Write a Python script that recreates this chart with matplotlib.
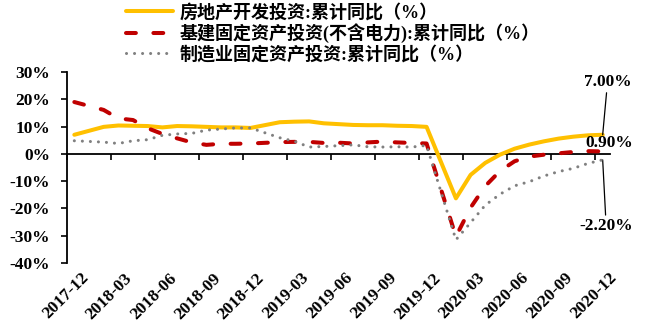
import matplotlib
matplotlib.use("Agg")
import matplotlib.pyplot as plt
import matplotlib.transforms as mtransforms
from matplotlib.ticker import FuncFormatter
import pandas as pd

# monthly cumulative yoy (%), January not published
months = ["2017-12",
          "2018-02", "2018-03", "2018-04", "2018-05", "2018-06", "2018-07",
          "2018-08", "2018-09", "2018-10", "2018-11", "2018-12",
          "2019-02", "2019-03", "2019-04", "2019-05", "2019-06", "2019-07",
          "2019-08", "2019-09", "2019-10", "2019-11", "2019-12",
          "2020-02", "2020-03", "2020-04", "2020-05", "2020-06", "2020-07",
          "2020-08", "2020-09", "2020-10", "2020-11", "2020-12"]

real_estate = [7.0,
               9.9, 10.4, 10.3, 10.2, 9.7, 10.2, 10.1, 9.9, 9.7, 9.7, 9.5,
               11.6, 11.8, 11.9, 11.2, 10.9, 10.6, 10.5, 10.5, 10.3, 10.2, 9.9,
               -16.3, -7.7, -3.3, -0.3, 1.9, 3.4, 4.6, 5.6, 6.3, 6.8, 7.0]

infra = [19.0,
         16.1, 13.0, 12.4, 9.4, 7.3, 5.7, 4.2, 3.3, 3.7, 3.7, 3.8,
         4.3, 4.4, 4.4, 4.0, 4.1, 3.8, 4.2, 4.5, 4.2, 4.0, 3.8,
         -30.3, -19.7, -11.8, -6.3, -2.7, -1.0, -0.3, 0.2, 0.7, 1.0, 0.9]

manuf = [4.8,
         4.3, 3.8, 4.8, 5.2, 6.8, 7.3, 7.5, 8.7, 9.1, 9.5, 9.5,
         5.9, 4.6, 2.5, 2.7, 3.0, 3.3, 2.6, 2.5, 2.6, 2.5, 3.1,
         -31.5, -25.2, -18.8, -14.8, -11.7, -10.2, -8.1, -6.5, -5.3, -3.5, -2.2]

tick_labels = ["2017-12", "2018-03", "2018-06", "2018-09", "2018-12", "2019-03",
               "2019-06", "2019-09", "2019-12", "2020-03", "2020-06", "2020-09",
               "2020-12"]

labels = ["房地产开发投资:累计同比（%）",
          "基建固定资产投资(不含电力):累计同比（%）",
          "制造业固定资产投资:累计同比（%）"]

periods = pd.PeriodIndex(months, freq="M")
start = periods[0]
x = [(p - start).n for p in periods]
tick_x = [(pd.Period(t, freq="M") - start).n for t in tick_labels]
n_months = (periods[-1] - start).n + 1

serif = ["Liberation Serif", "Noto Sans CJK SC"]

fig = plt.figure(figsize=(6.46, 3.29), dpi=100)
ax = fig.add_axes([0.1037, 0.2006, 0.8406, 0.5805])

ax.plot(x, real_estate, color="#FFC000", lw=2.9, solid_capstyle="round",
        solid_joinstyle="round", label=labels[0], zorder=3)
ax.plot(x, infra, color="#C00000", lw=2.9, linestyle=(0, (2.45, 4.35)),
        dash_capstyle="round", label=labels[1], zorder=4)
ax.plot(x, manuf, color="#808080", lw=2.2, linestyle=(0, (0.01, 2.62)),
        dash_capstyle="round", label=labels[2], zorder=5)

ax.set_xlim(-0.5, n_months - 0.5)
ax.set_ylim(-40, 30)
ax.set_yticks(range(-40, 31, 10))
ax.yaxis.set_major_formatter(FuncFormatter(lambda v, p: f"{v:.0f}%"))
for lab in ax.get_yticklabels():
    lab.set_fontfamily(serif)
    lab.set_fontweight("bold")
    lab.set_fontsize(12.5)
ax.tick_params(axis="y", length=4, width=1.2, pad=8)

ax.spines["top"].set_visible(False)
ax.spines["right"].set_visible(False)
ax.spines["left"].set_linewidth(1.3)
ax.spines["bottom"].set_position(("data", 0))
ax.spines["bottom"].set_linewidth(1.3)
ax.set_xticks([t - 0.5 for t in tick_x])
ax.tick_params(axis="x", direction="out", length=4, width=1.2, labelbottom=False)

sec = ax.secondary_xaxis("bottom")
sec.spines["bottom"].set_visible(False)
sec.set_xticks(tick_x)
sec.set_xticklabels(tick_labels, rotation=45, ha="right", rotation_mode="anchor",
                    fontfamily=serif, fontweight="bold", fontsize=12.5)
sec.tick_params(axis="x", length=0, pad=5)
shift = mtransforms.ScaledTranslation(6 / 100, 0, fig.dpi_scale_trans)
for lab in sec.get_xticklabels():
    lab.set_transform(lab.get_transform() + shift)

ann_kw = dict(textcoords="offset points", ha="center", va="center",
              fontfamily=serif, fontweight="bold", fontsize=12.5,
              annotation_clip=False)
line_kw = dict(arrowstyle="-", color="black", lw=0.9, shrinkA=0, shrinkB=0)
ax.annotate(f"{real_estate[-1]:.2f}%", xy=(x[-1], real_estate[-1]),
            xytext=(3.5, 38), arrowprops=line_kw, **ann_kw)
ax.annotate(f"{infra[-1]:.2f}%", xy=(x[-1], infra[-1]),
            xytext=(4.5, 6), **ann_kw)
ax.annotate(f"{manuf[-1]:.2f}%", xy=(x[-1], manuf[-1]),
            xytext=(2.5, -47.5), arrowprops=line_kw, **ann_kw)

leg = fig.legend(loc="upper left", bbox_to_anchor=(0.193, 0.995), frameon=False,
                 borderpad=0, borderaxespad=0.1, handlelength=2.6,
                 handletextpad=0.35, labelspacing=0.12,
                 prop=dict(family=serif, weight="bold", size=13))

fig.savefig("out.png", dpi=100)
